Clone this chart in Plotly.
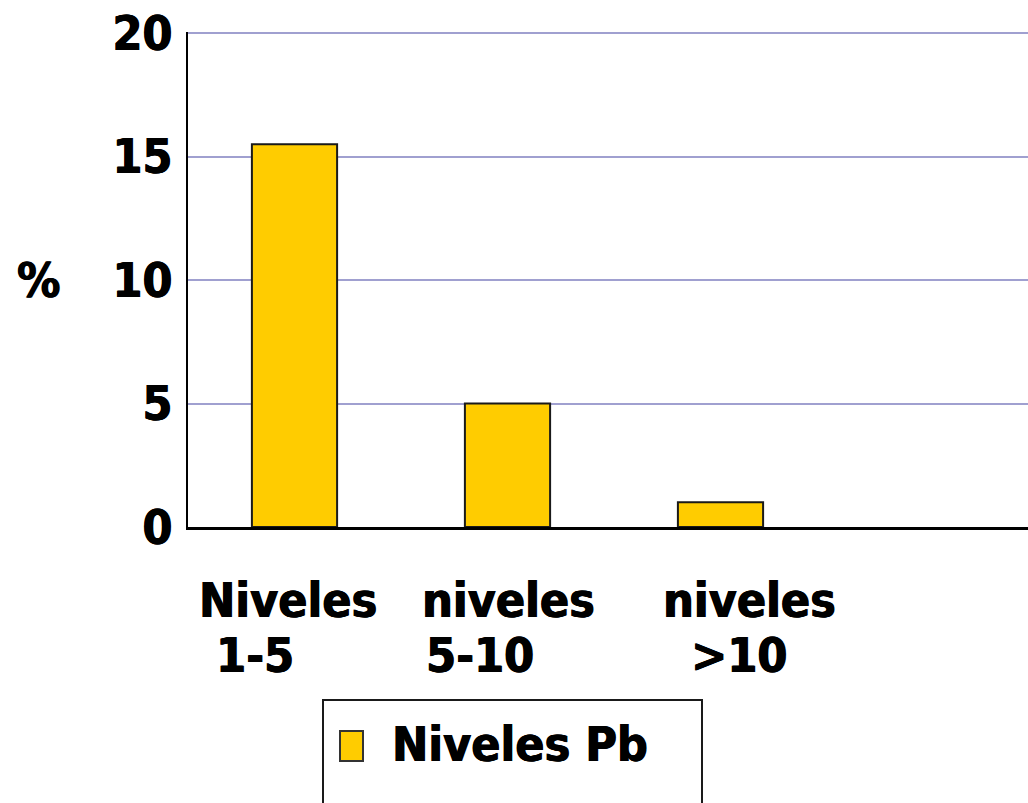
import plotly.graph_objects as go

# Data
categories = ["Niveles 1-5", "niveles 5-10", "niveles >10"]
values = [15.5, 5.0, 1.0]
series_name = "Niveles Pb"
y_ticks = [0, 5, 10, 15, 20]
y_title = "%"

FONT = "DejaVu Sans Condensed, DejaVu Sans, sans-serif"
HEAVY = "0.7px 0 0 black, -0.4px 0 0 black"
BAR_COLOR = "#FFCC00"
GRID_COLOR = "#A0A0D0"

# Plot area geometry in pixels
W, H = 1028, 803
ML, MR, MT, MB = 188, 0, 32, 276
slot_px = 213  # width of one category slot
n_slots_visible = (W - ML - MR) / slot_px

fig = go.Figure()
fig.add_trace(go.Bar(
    x=categories,
    y=values,
    name=series_name,
    width=0.4,
    marker=dict(color=BAR_COLOR, line=dict(color="#1a1a1a", width=2)),
    showlegend=False,
))

# Two-line category labels, left-aligned per line
line1_shift = [-98, -88, -60]
line2_shift = [-81, -84, -32]
annotations = []
for i, cat in enumerate(categories):
    first, second = cat.split(" ", 1)
    annotations.append(dict(x=cat, xref="x", y=0, yref="paper", text=first,
                            xanchor="left", yanchor="middle", xshift=line1_shift[i],
                            yshift=-73, showarrow=False))
    annotations.append(dict(x=cat, xref="x", y=0, yref="paper", text=second,
                            xanchor="left", yanchor="middle", xshift=line2_shift[i],
                            yshift=-128, showarrow=False))

# y-axis title
annotations.append(dict(x=0, xref="paper", xanchor="left", xshift=-(ML - 15),
                        y=10, yref="y", yanchor="middle", text=y_title, showarrow=False))

# Legend: boxed swatch + label
pw, ph = W - ML - MR, H - MT - MB
def px_x(p):
    return (p - ML) / pw
def px_y(q):
    return (H - MB - q) / ph

annotations.append(dict(x=px_x(390), xref="paper", xanchor="left",
                        y=px_y(744), yref="paper", yanchor="middle",
                        text=series_name, showarrow=False))

shapes = [
    dict(type="rect", xref="paper", yref="paper",
         x0=px_x(323), x1=px_x(702), y0=px_y(830), y1=px_y(700),
         line=dict(color="#1a1a1a", width=2), fillcolor="white", layer="below"),
    dict(type="rect", xref="paper", yref="paper",
         x0=px_x(340), x1=px_x(363), y0=px_y(761), y1=px_y(731),
         line=dict(color="#333333", width=2), fillcolor=BAR_COLOR),
]

fig.update_layout(
    width=W, height=H,
    margin=dict(l=ML, r=MR, t=MT, b=MB, pad=0),
    paper_bgcolor="white", plot_bgcolor="white",
    font=dict(family=FONT, size=48, color="black", weight="bold", shadow=HEAVY),
    bargap=0.6,
    annotations=annotations,
    shapes=shapes,
    xaxis=dict(
        type="category",
        categoryorder="array", categoryarray=categories,
        range=[-0.5, -0.5 + n_slots_visible],
        showticklabels=False, showgrid=False, zeroline=False,
        showline=True, linecolor="black", linewidth=3, ticks="",
        fixedrange=True,
    ),
    yaxis=dict(
        range=[0, 20.05], tickvals=y_ticks,
        showgrid=True, gridcolor=GRID_COLOR, gridwidth=2,
        zeroline=False, showline=True, linecolor="black", linewidth=2,
        ticks="", ticklabelstandoff=4,
        tickfont=dict(family=FONT, size=48, color="black", weight="bold", shadow=HEAVY),
        fixedrange=True,
    ),
)

fig.write_html("out.html", config={"displayModeBar": False})
